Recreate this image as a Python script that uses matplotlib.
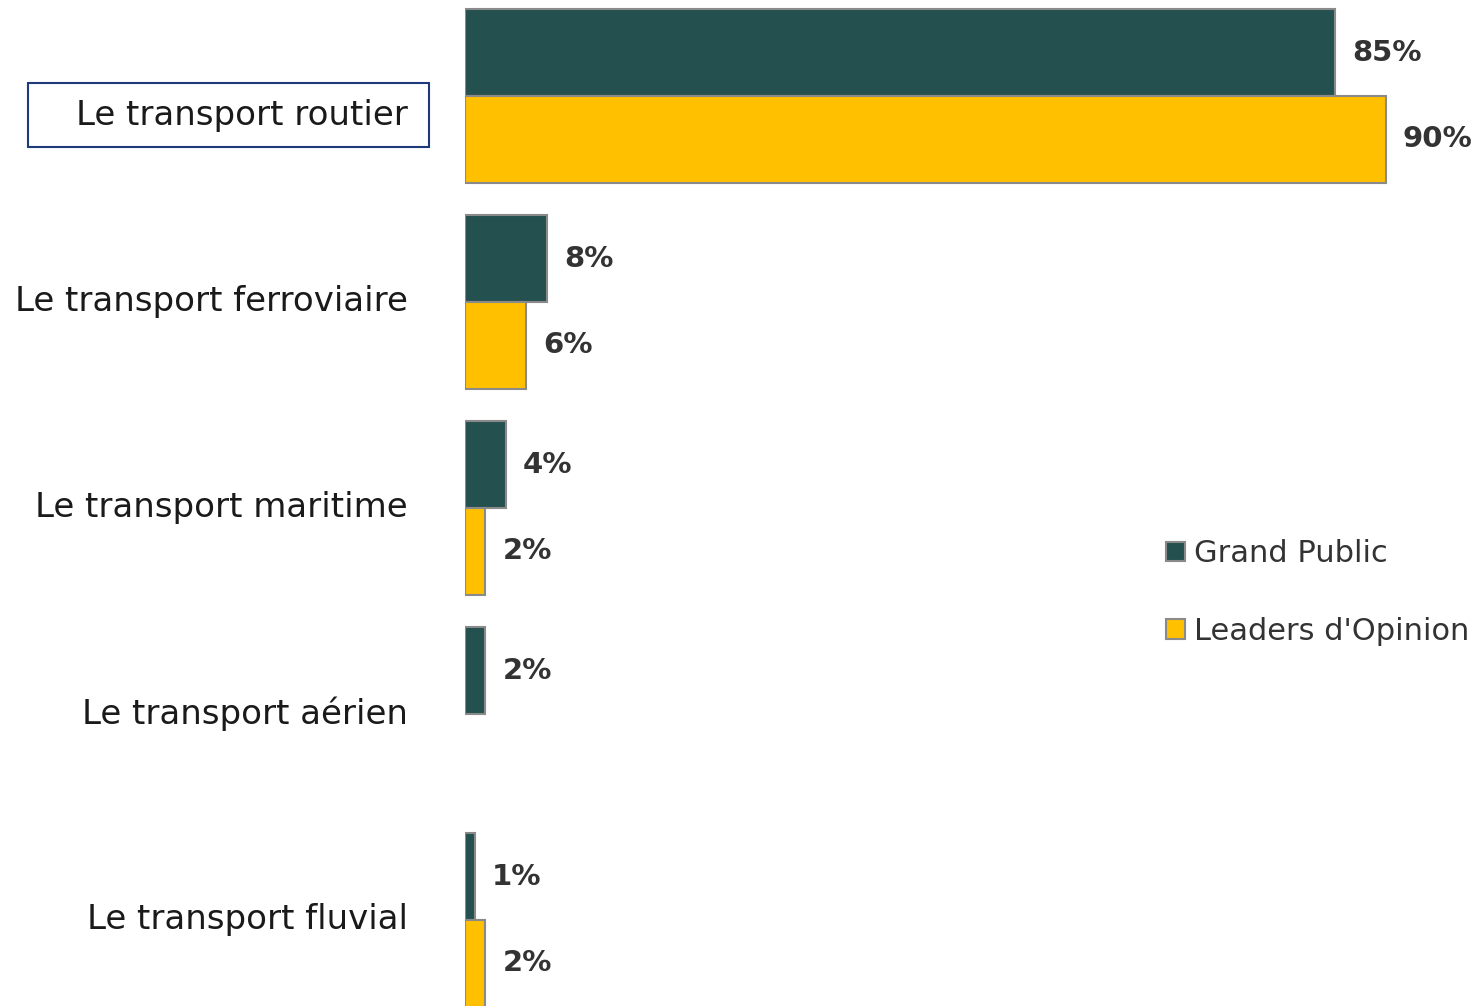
import numpy as np
import matplotlib
matplotlib.use("Agg")
import matplotlib.pyplot as plt
import matplotlib.transforms as mtransforms
from matplotlib.patches import Rectangle

categories = ["Le transport routier", "Le transport ferroviaire", "Le transport maritime",
              "Le transport aérien", "Le transport fluvial"]
grand_public = [85, 8, 4, 2, 1]
leaders = [90, 6, 2, np.nan, 2]
series_names = ["Grand Public", "Leaders d'Opinion"]

teal = "#24504f"
yellow = "#ffc000"
edge = "#8a8a8a"
txt = "#333333"

W, H = 1481, 1006
fig = plt.figure(figsize=(W / 100, H / 100), dpi=100)
ax = fig.add_axes([465 / W, 0, 1 - 465 / W, 1])

y = np.arange(len(categories))
h = 0.4223
b1 = ax.barh(y - h / 2, grand_public, height=h, color=teal, edgecolor=edge, linewidth=1.5,
             label=series_names[0])
b2 = ax.barh(y + h / 2, leaders, height=h, color=yellow, edgecolor=edge, linewidth=1.5,
             label=series_names[1])

ax.set_xlim(0, (W - 465) / 10.233)
ax.set_ylim((1006 - 96) / 206, -96 / 206)
ax.axis("off")

# value labels
off = mtransforms.ScaledTranslation(17 / 100, 0, fig.dpi_scale_trans)
for bars, vals in [(b1, grand_public), (b2, leaders)]:
    for bar, v in zip(bars, vals):
        if np.isnan(v):
            continue
        ax.text(v, bar.get_y() + bar.get_height() / 2, f"{v:.0f}%",
                transform=ax.transData + off, ha="left", va="center",
                fontsize=21, fontweight="bold", color=txt)

# category labels
for i, c in enumerate(categories):
    dy = -20 / 100 if i == 0 else 0
    t = mtransforms.blended_transform_factory(ax.transAxes, ax.transData) + \
        mtransforms.ScaledTranslation(-57 / 100, dy, fig.dpi_scale_trans)
    ax.text(0, i, c, transform=t, ha="right", va="center", fontsize=24.5, color="#1a1a1a",
            clip_on=False)

# box around the first label
fig.patches.append(Rectangle((28 / W, 1 - 147 / H), (429 - 28) / W, (147 - 83) / H,
                             transform=fig.transFigure, fill=False, edgecolor="#1f3a7a",
                             linewidth=1.5))

leg = ax.legend(loc="upper left", bbox_to_anchor=(1154 / W, 1 - 527 / H),
                bbox_transform=fig.transFigure, frameon=False, fontsize=22,
                handlelength=0.62, handleheight=0.62, handletextpad=0.3,
                labelspacing=1.6, borderaxespad=0)
for t in leg.get_texts():
    t.set_color(txt)

fig.savefig("out.png", dpi=100)
